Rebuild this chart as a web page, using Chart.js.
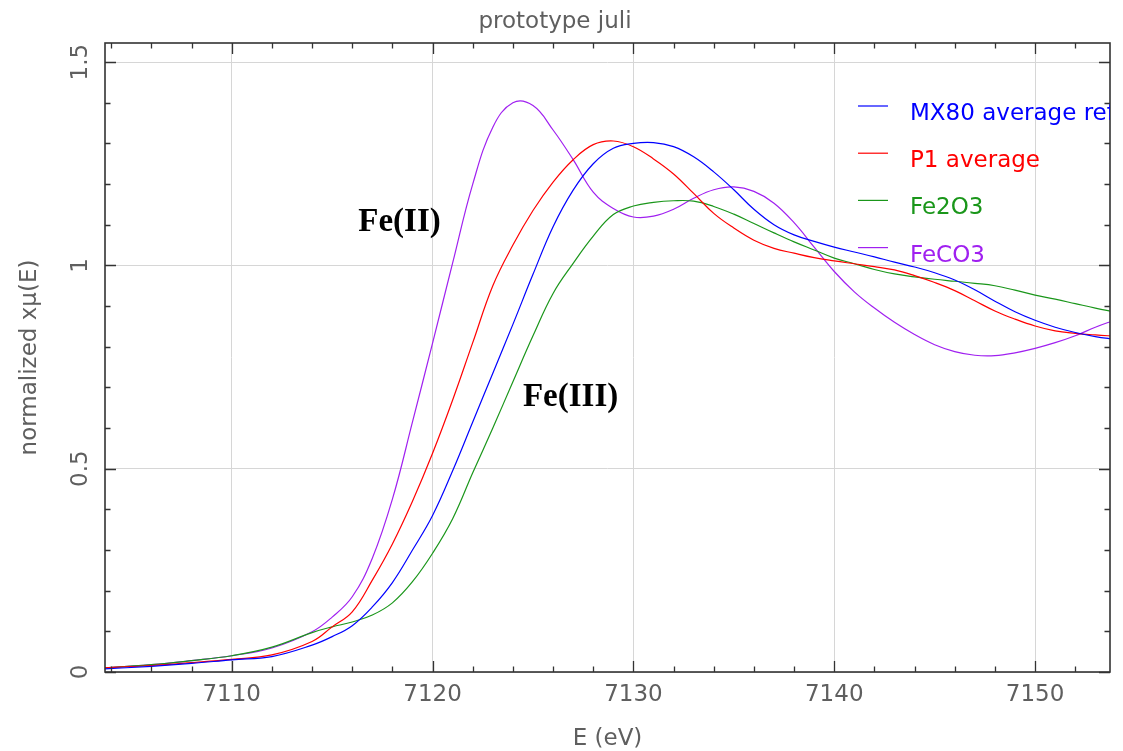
<!DOCTYPE html>
<html lang="en">
<head>
    <meta charset="UTF-8">
    <title>prototype juli</title>
    <script src="https://cdn.jsdelivr.net/npm/chart.js"></script>
    <style>
        body {
            margin: 0;
            padding: 0;
            background-color: #fff;
        }
        canvas {
            display: block;
        }
    </style>
</head>
<body>
    <canvas id="xanesChart" width="1123" height="751"></canvas>

    <script>
        // energy grid (eV) shared by all spectra
        const energy = [7103, 7106, 7108, 7110, 7112, 7114, 7115, 7116, 7117, 7118, 7119, 7120,
            7121, 7122, 7123, 7124, 7125, 7126, 7127, 7128, 7129, 7130, 7131, 7132, 7133, 7134,
            7135, 7136, 7137, 7138, 7139, 7140, 7141, 7142, 7143, 7144, 7145, 7146, 7147, 7148,
            7149, 7150, 7151, 7152, 7153, 7154];

        const mx80 = [0.006, 0.014, 0.021, 0.030, 0.038, 0.066, 0.087, 0.114, 0.16, 0.22, 0.30, 0.385,
            0.495, 0.615, 0.735, 0.855, 0.978, 1.095, 1.185, 1.25, 1.288, 1.30, 1.302, 1.292, 1.267, 1.23,
            1.186, 1.138, 1.10, 1.075, 1.059, 1.045, 1.033, 1.021, 1.008, 0.996, 0.982, 0.964, 0.94, 0.912,
            0.886, 0.865, 0.848, 0.835, 0.825, 0.818];

        const p1 = [0.009, 0.016, 0.023, 0.031, 0.042, 0.075, 0.111, 0.148, 0.226, 0.315, 0.42, 0.538,
            0.669, 0.81, 0.95, 1.05, 1.135, 1.205, 1.26, 1.297, 1.306, 1.292, 1.262, 1.225, 1.177, 1.128,
            1.092, 1.062, 1.042, 1.03, 1.019, 1.011, 1.004, 0.997, 0.989, 0.975, 0.958, 0.938, 0.913, 0.888,
            0.868, 0.851, 0.839, 0.833, 0.829, 0.826];

        const fe2o3 = [0.008, 0.018, 0.028, 0.040, 0.061, 0.097, 0.111, 0.123, 0.14, 0.17, 0.222, 0.292,
            0.377, 0.49, 0.60, 0.714, 0.827, 0.931, 1.005, 1.072, 1.125, 1.146, 1.155, 1.159, 1.158, 1.145,
            1.126, 1.103, 1.08, 1.058, 1.038, 1.018, 1.004, 0.99, 0.979, 0.972, 0.966, 0.961, 0.956, 0.95,
            0.939, 0.927, 0.917, 0.906, 0.895, 0.885];

        const feco3 = [0.008, 0.018, 0.028, 0.040, 0.059, 0.099, 0.135, 0.185, 0.28, 0.425, 0.615, 0.809,
            1.006, 1.2, 1.34, 1.40, 1.393, 1.333, 1.26, 1.18, 1.14, 1.119, 1.121, 1.138, 1.165, 1.186,
            1.193, 1.182, 1.153, 1.105, 1.045, 0.985, 0.935, 0.895, 0.86, 0.83, 0.805, 0.788, 0.779, 0.778,
            0.785, 0.796, 0.81, 0.827, 0.848, 0.866];

        const seriesNames = ['MX80 average ref', 'P1 average', 'Fe2O3', 'FeCO3'];
        const seriesColors = ['#0000ff', '#ff0000', '#1a961a', '#a020f0'];

        const xTickValues = [7110, 7120, 7130, 7140, 7150];
        const yTickValues = [0, 0.5, 1, 1.5];

        // text labels placed in data coordinates
        const notes = [
            { text: 'Fe(II)', x: 7116.3, y: 1.106 },
            { text: 'Fe(III)', x: 7124.5, y: 0.676 }
        ];

        const xRange = [7103.69, 7153.73];
        const yRange = [0, 1.547];

        const textColor = '#5f5f5f';
        const fontFamily = "'DejaVu Sans', sans-serif";

        // frame, inward ticks, rotated y labels, legend and notes
        const framePlugin = {
            id: 'frame',
            afterDatasetsDraw(chart) {
                const ctx = chart.ctx;
                const area = chart.chartArea;
                const xs = chart.scales.x;
                const ys = chart.scales.y;
                ctx.save();

                ctx.strokeStyle = '#333';
                ctx.lineWidth = 1.3;
                ctx.beginPath();
                // x ticks, minor every 2 eV
                for (let v = 7104; v <= 7153; v += 2) {
                    const px = Math.round(xs.getPixelForValue(v)) + 0.5;
                    const len = (v % 10 === 0) ? 11 : 5.5;
                    ctx.moveTo(px, area.bottom);
                    ctx.lineTo(px, area.bottom - len);
                    ctx.moveTo(px, area.top);
                    ctx.lineTo(px, area.top + len);
                }
                // y ticks, minor every 0.1
                for (let i = 0; i <= 15; i++) {
                    const v = i / 10;
                    const py = Math.round(ys.getPixelForValue(v)) + 0.5;
                    const len = (i % 5 === 0) ? 11 : 5.5;
                    ctx.moveTo(area.left, py);
                    ctx.lineTo(area.left + len, py);
                    ctx.moveTo(area.right, py);
                    ctx.lineTo(area.right - len, py);
                }
                ctx.stroke();

                ctx.lineWidth = 1.6;
                ctx.strokeRect(area.left, area.top, area.right - area.left, area.bottom - area.top);

                // y tick labels, rotated
                ctx.fillStyle = textColor;
                ctx.font = '23px ' + fontFamily;
                ctx.textAlign = 'center';
                ctx.textBaseline = 'middle';
                ys.ticks.forEach((t) => {
                    const py = ys.getPixelForValue(t.value);
                    ctx.save();
                    ctx.translate(81, py);
                    ctx.rotate(-Math.PI / 2);
                    ctx.fillText(String(t.value), 0, 0);
                    ctx.restore();
                });

                // legend, clipped by the plot frame
                ctx.save();
                ctx.beginPath();
                ctx.rect(area.left, area.top, area.right - area.left, area.bottom - area.top);
                ctx.clip();
                ctx.textAlign = 'left';
                ctx.textBaseline = 'alphabetic';
                seriesNames.forEach((name, i) => {
                    const base = 120 + i * 47.2;
                    ctx.strokeStyle = seriesColors[i];
                    ctx.lineWidth = 1.2;
                    ctx.beginPath();
                    ctx.moveTo(858, base - 14);
                    ctx.lineTo(888, base - 14);
                    ctx.stroke();
                    ctx.fillStyle = seriesColors[i];
                    ctx.fillText(name, 910, base);
                });
                ctx.restore();

                // notes
                ctx.fillStyle = '#000';
                ctx.font = "bold 33px 'Liberation Serif', serif";
                ctx.textAlign = 'left';
                ctx.textBaseline = 'middle';
                notes.forEach((n) => {
                    ctx.fillText(n.text, xs.getPixelForValue(n.x), ys.getPixelForValue(n.y));
                });

                ctx.restore();
            }
        };

        const makeSet = (values, i) => ({
            label: seriesNames[i],
            data: energy.map((e, k) => ({ x: e, y: values[k] })),
            borderColor: seriesColors[i],
            borderWidth: 1.2,
            pointRadius: 0,
            tension: 0.4,
            fill: false
        });

        const ctx = document.getElementById('xanesChart').getContext('2d');
        const chart = new Chart(ctx, {
            type: 'line',
            data: {
                datasets: [mx80, p1, fe2o3, feco3].map(makeSet)
            },
            options: {
                responsive: false,
                animation: false,
                devicePixelRatio: 1,
                layout: {
                    padding: { left: 0, right: 13, top: 0, bottom: 0 }
                },
                plugins: {
                    legend: { display: false },
                    tooltip: { enabled: false },
                    title: {
                        display: true,
                        text: 'prototype juli',
                        color: textColor,
                        font: { family: fontFamily, size: 23, weight: 'normal', lineHeight: 1.2 },
                        padding: { top: 8, bottom: 7.4 }
                    }
                },
                scales: {
                    x: {
                        type: 'linear',
                        min: xRange[0],
                        max: xRange[1],
                        border: { display: false },
                        grid: { color: '#d6d6d6', lineWidth: 1, drawTicks: false },
                        afterBuildTicks: (scale) => {
                            scale.ticks = xTickValues.map((v) => ({ value: v }));
                        },
                        ticks: {
                            padding: 9,
                            maxRotation: 0,
                            autoSkip: false,
                            color: textColor,
                            font: { family: fontFamily, size: 23 },
                            callback: (v) => String(v)
                        },
                        title: {
                            display: true,
                            text: 'E (eV)',
                            color: textColor,
                            font: { family: fontFamily, size: 23, lineHeight: 1 },
                            padding: { top: 0, bottom: 0 }
                        },
                        afterFit: (scale) => { scale.height = 79; }
                    },
                    y: {
                        type: 'linear',
                        min: yRange[0],
                        max: yRange[1],
                        border: { display: false },
                        grid: { color: '#d6d6d6', lineWidth: 1, drawTicks: false },
                        afterBuildTicks: (scale) => {
                            scale.ticks = yTickValues.map((v) => ({ value: v }));
                        },
                        ticks: {
                            display: false
                        },
                        title: {
                            display: true,
                            text: 'normalized xμ(E)',
                            color: textColor,
                            font: { family: fontFamily, size: 23, lineHeight: 1.2 },
                            padding: { top: 16, bottom: 0 }
                        },
                        afterFit: (scale) => { scale.width = 105; }
                    }
                }
            },
            plugins: [framePlugin]
        });
    </script>
</body>
</html>
